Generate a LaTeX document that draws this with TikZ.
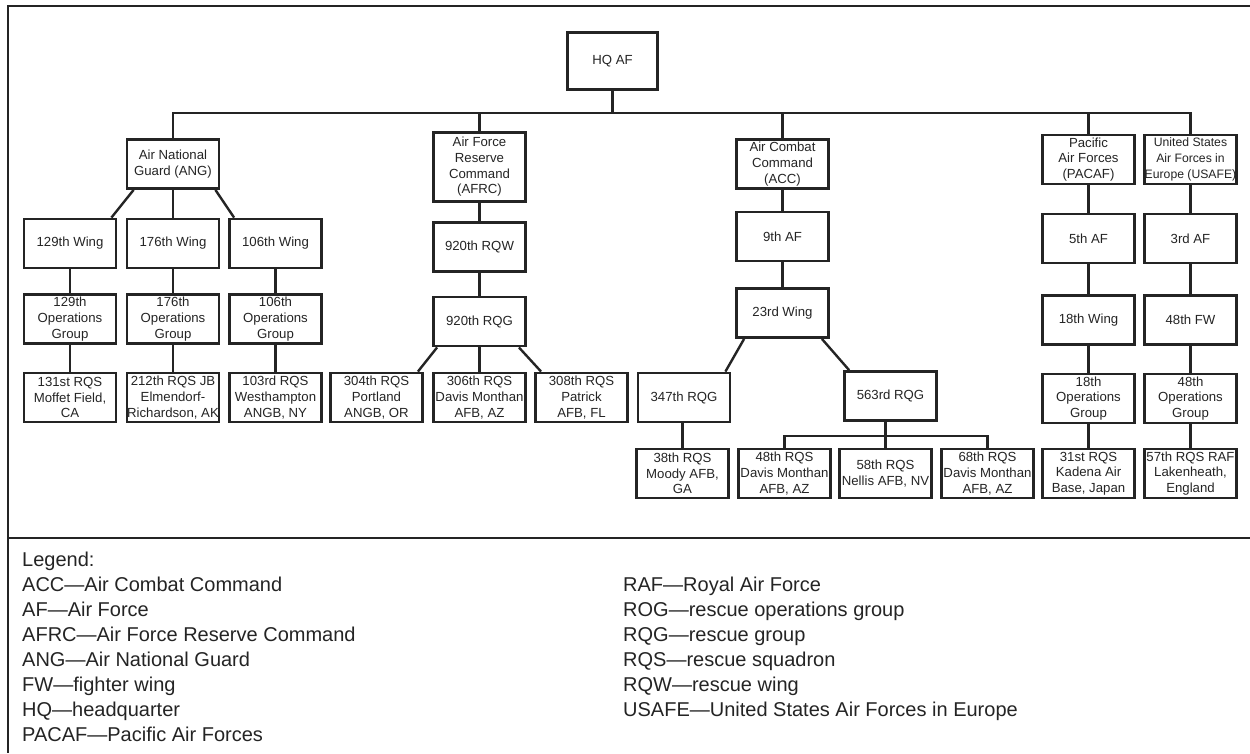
\documentclass[tikz,border=0pt]{standalone}
\usepackage{fontspec}
\setmainfont{Liberation Sans}
\usepackage{xcolor}
\usetikzlibrary{positioning}
\definecolor{ink}{HTML}{242424}

\begin{document}
\begin{tikzpicture}[x=1pt,y=-1pt,
  unit/.style={draw=ink, line width=2.8pt, text=ink, minimum width=92pt, align=center,
    minimum height=49pt, inner xsep=0pt, inner ysep=0pt, font=\fontsize{13.2}{15.7}\selectfont},
  link/.style={draw=ink, line width=2.4pt},
  frame/.style={draw=ink, line width=2.4pt},
  legend/.style={anchor=base west, inner sep=0pt, text=ink, font=\fontsize{20}{25}\selectfont}]
	\useasboundingbox (0,0) rectangle (1250,753);
	\draw[frame] (1250,6) -- (8,6) -- (8,753);
	\draw[frame] (8,538) -- (1250,538);

	% top
		\node[unit, minimum width=90pt, minimum height=57pt] (hq) at (612.5,61) {HQ AF};
		\coordinate (bus) at (612.5,113);

	% ANG
		\node[unit] (ang) at (173,164) {Air National\\Guard (ANG)};
		\node[unit] (w129) at (70,243.5) {129th Wing};
		\node[unit] (w176) at (173,243.5) {176th Wing};
		\node[unit] (w106) at (275.5,243.5) {106th Wing};
		\node[unit] (og129) at (70,319) {129th\\Operations\\Group};
		\node[unit] (og176) at (173,319) {176th\\Operations\\Group};
		\node[unit] (og106) at (275.5,319) {106th\\Operations\\Group};
		\node[unit] (s131) at (70,397.5) {131st RQS\\Moffet Field,\\CA};
		\node[unit] (s212) at (173,397.5) {212th RQS JB\\Elmendorf-\\Richardson, AK};
		\node[unit] (s103) at (275.5,397.5) {103rd RQS\\Westhampton\\ANGB, NY};

	% AFRC
		\node[unit, minimum height=69pt] (afrc) at (479.5,167) {Air Force\\Reserve\\Command\\(AFRC)};
		\node[unit] (rqw920) at (479.5,247) {920th RQW};
		\node[unit] (rqg920) at (479.5,321.5) {920th RQG};
		\node[unit] (s304) at (376.5,397.5) {304th RQS\\Portland\\ANGB, OR};
		\node[unit] (s306) at (479.5,397.5) {306th RQS\\Davis Monthan\\AFB, AZ};
		\node[unit] (s308) at (581.5,397.5) {308th RQS\\Patrick\\AFB, FL};

	% ACC
		\node[unit] (acc) at (782.5,164) {Air Combat\\Command\\(ACC)};
		\node[unit] (af9) at (782.5,236.5) {9th AF};
		\node[unit] (w23) at (782.5,313) {23rd Wing};
		\node[unit] (g347) at (684,397.5) {347th RQG};
		\node[unit] (g563) at (890.5,396) {563rd RQG};
		\node[unit] (s38) at (682.5,473.5) {38th RQS\\Moody AFB,\\GA};
		\node[unit] (s48) at (784.5,473.5) {48th RQS\\Davis Monthan\\AFB, AZ};
		\node[unit] (s58) at (885.5,473.5) {58th RQS\\Nellis AFB, NV};
		\node[unit] (s68) at (987.5,473.5) {68th RQS\\Davis Monthan\\AFB, AZ};
		\coordinate (sub) at (885.5,436);

	% PACAF and USAFE
		\node[unit] (pacaf) at (1088.5,159.5) {Pacific\\Air Forces\\(PACAF)};
		\node[unit] (af5) at (1088.5,238.5) {5th AF};
		\node[unit] (w18) at (1088.5,320) {18th Wing};
		\node[unit] (og18) at (1088.5,398.5) {18th\\Operations\\Group};
		\node[unit] (s31) at (1088.5,473.5) {31st RQS\\Kadena Air\\Base, Japan};
		\node[unit, font=\fontsize{12.2}{15.7}\selectfont] (usafe) at (1190.5,159.5) {United States\\Air Forces in\\Europe (USAFE)};
		\node[unit] (af3) at (1190.5,238.5) {3rd AF};
		\node[unit] (fw48) at (1190.5,320) {48th FW};
		\node[unit] (og48) at (1190.5,398.5) {48th\\Operations\\Group};
		\node[unit] (s57) at (1190.5,473.5) {57th RQS RAF\\Lakenheath,\\England};

	% connectors
		\draw[link] (hq.south) -- (bus);
		\draw[link] (ang.north) |- (bus) -| (usafe.north);
		\draw[link] (afrc.north) -- (afrc.north |- bus);
		\draw[link] (acc.north) -- (acc.north |- bus);
		\draw[link] (pacaf.north) -- (pacaf.north |- bus);

		\draw[link] ([xshift=8pt]ang.south west) -- ([xshift=-6pt]w129.north east);
		\draw[link] (ang) -- (w176);
		\draw[link] ([xshift=-5pt]ang.south east) -- ([xshift=6pt]w106.north west);
		\draw[link] (w129) -- (og129) -- (s131);
		\draw[link] (w176) -- (og176) -- (s212);
		\draw[link] (w106) -- (og106) -- (s103);

		\draw[link] (afrc) -- (rqw920) -- (rqg920) -- (s306);
		\draw[link] ([xshift=5pt]rqg920.south west) -- ([xshift=-6pt]s304.north east);
		\draw[link] ([xshift=-8pt]rqg920.south east) -- ([xshift=7pt]s308.north west);

		\draw[link] (acc) -- (af9) -- (w23);
		\draw[link] ([xshift=9pt]w23.south west) -- ([xshift=-6pt]g347.north east);
		\draw[link] ([xshift=-8pt]w23.south east) -- ([xshift=6pt]g563.north west);
		\draw[link] (s38.north) -- (s38.north |- g347.south);
		\draw[link] (s58.north) -- (s58.north |- g563.south);
		\draw[link] (s48.north) |- (sub) -| (s68.north);

		\draw[link] (pacaf) -- (af5) -- (w18) -- (og18) -- (s31);
		\draw[link] (usafe) -- (af3) -- (fw48) -- (og48) -- (s57);

	% legend
		\node[legend] (lg0) at (22,566.5) {Legend:};
		\node[legend] (lg1) at (22,591.5) {ACC—Air Combat Command};
		\node[legend] (lg2) at (22,616.5) {AF—Air Force};
		\node[legend] (lg3) at (22,641.5) {AFRC—Air Force Reserve Command};
		\node[legend] (lg4) at (22,666.5) {ANG—Air National Guard};
		\node[legend] (lg5) at (22,691.5) {FW—fighter wing};
		\node[legend] (lg6) at (22,716.5) {HQ—headquarter};
		\node[legend] (lg7) at (22,741.5) {PACAF—Pacific Air Forces};
		\node[legend] (lg8) at (623,591.5) {RAF—Royal Air Force};
		\node[legend] (lg9) at (623,616.5) {ROG—rescue operations group};
		\node[legend] (lg10) at (623,641.5) {RQG—rescue group};
		\node[legend] (lg11) at (623,666.5) {RQS—rescue squadron};
		\node[legend] (lg12) at (623,691.5) {RQW—rescue wing};
		\node[legend] (lg13) at (623,716.5) {USAFE—United States Air Forces in Europe};
\end{tikzpicture}
\end{document}
